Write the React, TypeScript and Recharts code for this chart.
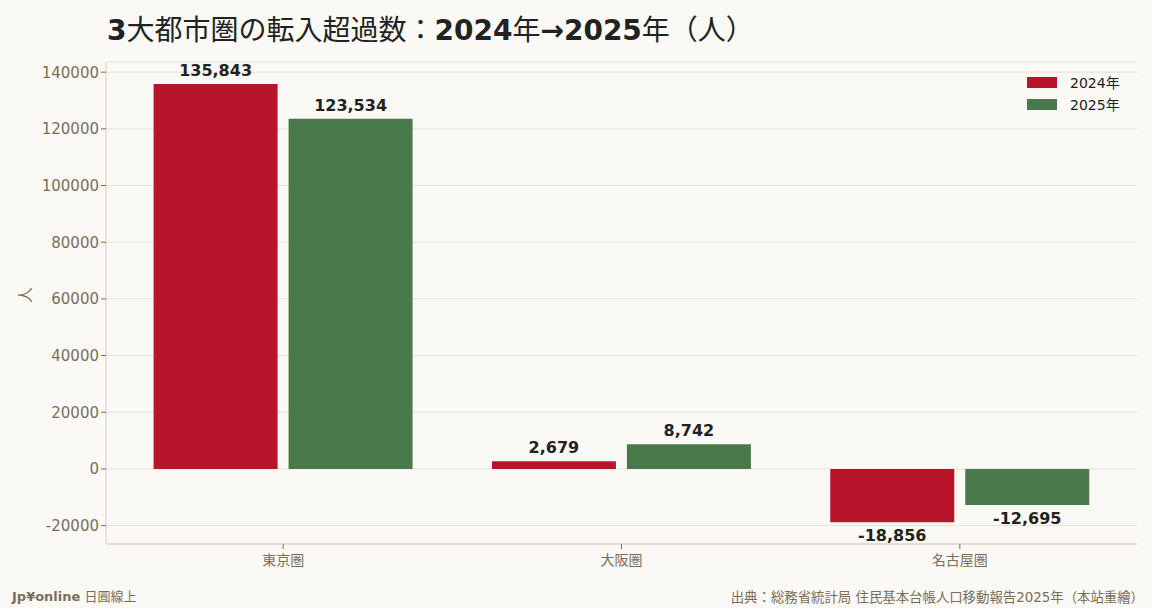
import React from "react"
import { BarChart, Bar, XAxis, YAxis, CartesianGrid, LabelList } from "recharts"

const regions = ["東京圏", "大阪圏", "名古屋圏"]
const net2024 = [135843, 2679, -18856]
const net2025 = [123534, 8742, -12695]
const yTicks = [-20000, 0, 20000, 40000, 60000, 80000, 100000, 120000, 140000]
const seriesNames = ["2024年", "2025年"]

const data = regions.map((name, i) => ({ name, y2024: net2024[i], y2025: net2025[i] }))

const BG = "#faf9f5"
const RED = "#b8142c"
const GREEN = "#4a7a4b"
const MUTED = "#7a6e5a"
const AXIS = "#d6cfbd"
const GRID = "#e6e2d6"
const FONT = "'DejaVu Sans', 'Noto Sans CJK JP', sans-serif"

function ValueLabel(props: any) {
  const { x, y, width, height, value } = props
  const top = Math.min(y, y + height)
  const bottom = Math.max(y, y + height)
  const ty = value >= 0 ? top - 8 : bottom + 19
  return (
    <text x={x + width / 2} y={ty} textAnchor="middle" fill="#222" fontSize={16} fontWeight="bold" fontFamily={FONT}>
      {value.toLocaleString("en-US")}
    </text>
  )
}

export default function App() {
  const colors = [RED, GREEN]
  return (
    <div style={{ position: "fixed", left: 0, top: 0, width: 1152, height: 608, background: BG, fontFamily: FONT }}>
      <div style={{ position: "absolute", left: 107, top: 8, fontSize: 28, color: "#222", whiteSpace: "nowrap" }}>
        <b>3</b>大都市圏の転入超過数：<b>2024</b>年<b>→2025</b>年（人）
      </div>
      <BarChart
        width={1152}
        height={608}
        data={data}
        margin={{ top: 62, right: 15, left: 0, bottom: 34 }}
        barCategoryGap="11.7%"
        barGap={11}
      >
        <CartesianGrid vertical={false} stroke={GRID} />
        <XAxis
          dataKey="name"
          padding={{ left: 8, right: 8 }}
          stroke={AXIS}
          tick={{ fill: MUTED, fontSize: 14, fontFamily: FONT, dy: 4 }}
          tickLine={{ stroke: MUTED }}
          tickSize={5}
        />
        <YAxis
          width={106}
          domain={[-26500, 143600]}
          ticks={yTicks}
          allowDataOverflow
          stroke={AXIS}
          tick={{ fill: MUTED, fontSize: 15, fontFamily: FONT }}
          tickLine={{ stroke: MUTED }}
          tickSize={5}
          label={{ value: "人", angle: -90, position: "insideLeft", offset: 25, fill: MUTED, fontSize: 16, fontFamily: FONT }}
        />
        <Bar dataKey="y2024" name={seriesNames[0]} fill={RED} isAnimationActive={false}>
          <LabelList dataKey="y2024" content={ValueLabel} />
        </Bar>
        <Bar dataKey="y2025" name={seriesNames[1]} fill={GREEN} isAnimationActive={false}>
          <LabelList dataKey="y2025" content={ValueLabel} />
        </Bar>
      </BarChart>
      <div style={{ position: "absolute", left: 1027, top: 71, fontSize: 14, color: "#222" }}>
        {seriesNames.map((s, i) => (
          <div key={s} style={{ display: "flex", alignItems: "center", height: 22 }}>
            <span style={{ display: "inline-block", width: 30, height: 11, background: colors[i], marginRight: 13 }} />
            {s}
          </div>
        ))}
      </div>
      <div style={{ position: "absolute", left: 12, top: 586, fontSize: 13, color: MUTED }}>
        <b>Jp¥online</b> 日圓線上
      </div>
      <div style={{ position: "absolute", right: 8, top: 586, fontSize: 13.4, color: MUTED }}>
        出典：総務省統計局 住民基本台帳人口移動報告2025年（本站重繪）
      </div>
    </div>
  )
}
